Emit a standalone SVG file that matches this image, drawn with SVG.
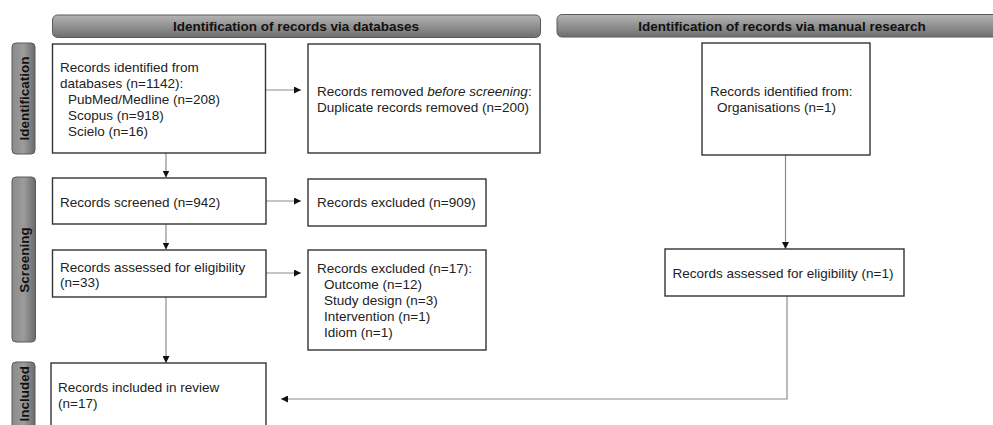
<svg xmlns="http://www.w3.org/2000/svg" width="993" height="425" viewBox="0 0 993 425">
<defs>
<linearGradient id="hdr" x1="0" y1="0" x2="0" y2="1">
<stop offset="0" stop-color="#b4b4b4"/>
<stop offset="1" stop-color="#6e6e6e"/>
</linearGradient>
<linearGradient id="side" x1="0" y1="0" x2="1" y2="0">
<stop offset="0" stop-color="#8a8a8a"/>
<stop offset="0.5" stop-color="#9c9c9c"/>
<stop offset="1" stop-color="#6a6a6a"/>
</linearGradient>
<marker id="ah" viewBox="0 0 10 10" refX="10" refY="5" markerWidth="7" markerHeight="7" markerUnits="userSpaceOnUse" orient="auto">
<path d="M0,0 L10,5 L0,10 z" fill="#111"/>
</marker>
</defs>
<style>
.hdr{fill:url(#hdr);stroke:#5a5a5a;stroke-width:1}
.side{fill:url(#side);stroke:#5a5a5a;stroke-width:1}
.ht{font-family:"Liberation Sans",Arial,sans-serif;font-size:13.5px;font-weight:bold;fill:#111;text-anchor:middle}
.st{font-family:"Liberation Sans",Arial,sans-serif;font-size:13.5px;font-weight:bold;fill:#111}
.box{fill:#fff;stroke:#333;stroke-width:1.4}
.t{font-family:"Liberation Sans",Arial,sans-serif;font-size:13.5px;fill:#222}
.c{fill:none;stroke:#8c8c8c;stroke-width:1.2}
.ca{fill:none;stroke:#8c8c8c;stroke-width:1.2;marker-end:url(#ah)}
</style>
<rect width="993" height="425" fill="#fff"/>

<g id="header-databases">
<rect class="hdr" x="52.5" y="15" width="488" height="22.5" rx="5"/>
<text class="ht" x="296" y="31">Identification of records via databases</text>
</g>
<g id="header-manual">
<rect class="hdr" x="557" y="14.5" width="460" height="22.5" rx="5"/>
<text class="ht" x="782" y="30.5">Identification of records via manual research</text>
</g>

<g id="label-identification">
<rect class="side" x="12" y="43" width="23" height="111" rx="4"/>
<text class="st" transform="translate(28.5,98.5) rotate(-90)" text-anchor="middle">Identification</text>
</g>
<g id="label-screening">
<rect class="side" x="12" y="177" width="23.5" height="165" rx="4"/>
<text class="st" transform="translate(28.5,260) rotate(-90)" text-anchor="middle">Screening</text>
</g>
<g id="label-included">
<rect class="side" x="12" y="362" width="23" height="120" rx="4"/>
<text class="st" transform="translate(28.5,366) rotate(-90)" text-anchor="end">Included</text>
</g>

<g id="connectors">
<path class="ca" d="M265.5,90 H301"/>
<path class="ca" d="M166,153 V177.5"/>
<path class="ca" d="M266,201 H301"/>
<path class="ca" d="M166,224 V249.5"/>
<path class="ca" d="M266,273 H301"/>
<path class="ca" d="M166,297 V363"/>
<path class="ca" d="M785.5,155 V249"/>
<path class="ca" d="M787,296 V399 H281"/>
</g>

<g id="node-db-identified">
<rect class="box" x="52.5" y="44" width="213" height="109"/>
<text class="t" x="60" y="72">Records identified from</text>
<text class="t" x="60" y="88">databases (n=1142):</text>
<text class="t" x="68" y="104">PubMed/Medline (n=208)</text>
<text class="t" x="68" y="120">Scopus (n=918)</text>
<text class="t" x="68" y="136">Scielo (n=16)</text>
</g>
<g id="node-removed">
<rect class="box" x="308" y="44" width="232" height="109"/>
<text class="t" x="317" y="96">Records removed <tspan font-style="italic">before screening</tspan>:</text>
<text class="t" x="317" y="112">Duplicate records removed (n=200)</text>
</g>
<g id="node-manual-identified">
<rect class="box" x="702" y="43" width="168" height="112"/>
<text class="t" x="710" y="96">Records identified from:</text>
<text class="t" x="717" y="112">Organisations (n=1)</text>
</g>
<g id="node-screened">
<rect class="box" x="52.5" y="178" width="213.5" height="46"/>
<text class="t" x="60" y="207">Records screened (n=942)</text>
</g>
<g id="node-excluded-909">
<rect class="box" x="308" y="179" width="178" height="47"/>
<text class="t" x="317" y="207">Records excluded (n=909)</text>
</g>
<g id="node-assessed">
<rect class="box" x="52.5" y="250" width="213.5" height="47"/>
<text class="t" x="60" y="272">Records assessed for eligibility</text>
<text class="t" x="60" y="287">(n=33)</text>
</g>
<g id="node-excluded-17">
<rect class="box" x="308" y="250" width="178" height="100"/>
<text class="t" x="317" y="273">Records excluded (n=17):</text>
<text class="t" x="324" y="289">Outcome (n=12)</text>
<text class="t" x="324" y="305">Study design (n=3)</text>
<text class="t" x="324" y="321">Intervention (n=1)</text>
<text class="t" x="324" y="337">Idiom (n=1)</text>
</g>
<g id="node-manual-assessed">
<rect class="box" x="665" y="249" width="239" height="47"/>
<text class="t" x="783" y="278" text-anchor="middle">Records assessed for eligibility (n=1)</text>
</g>
<g id="node-included">
<rect class="box" x="51" y="363" width="215" height="80"/>
<text class="t" x="58" y="392">Records included in review</text>
<text class="t" x="58" y="408">(n=17)</text>
</g>
</svg>
